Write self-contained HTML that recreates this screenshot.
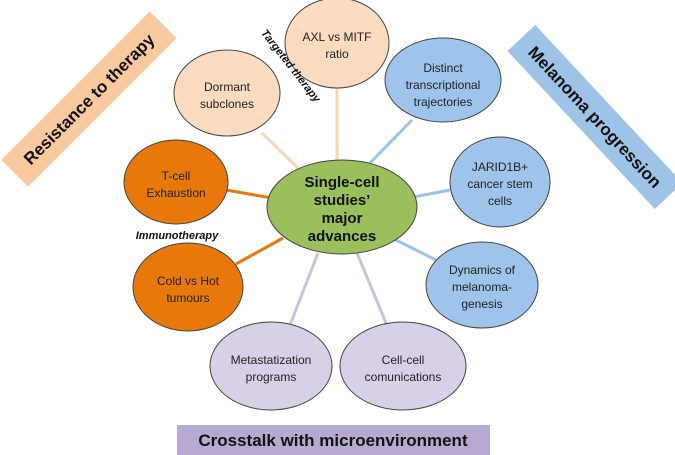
<!DOCTYPE html>
<html><head><style>html,body{margin:0;padding:0;background:#fff;}svg{display:block;font-family:"Liberation Sans",sans-serif;}</style></head>
<body>
<svg width="675" height="455" viewBox="0 0 675 455" xmlns="http://www.w3.org/2000/svg">
<g stroke-width="3">
<line x1="337" y1="87" x2="337" y2="165" stroke="#f8d6b6"/>
<line x1="262" y1="133" x2="302" y2="172" stroke="#f8d6b6"/>
<line x1="226" y1="190" x2="272" y2="198" stroke="#e8780a"/>
<line x1="236" y1="264" x2="283" y2="238" stroke="#e8780a"/>
<line x1="290" y1="325" x2="318" y2="253" stroke="#c9c3dd"/>
<line x1="386" y1="323" x2="357" y2="253" stroke="#c9c3dd"/>
<line x1="436" y1="260" x2="392" y2="238" stroke="#9dc3e6"/>
<line x1="450" y1="190" x2="408" y2="198" stroke="#9dc3e6"/>
<line x1="412" y1="120" x2="368" y2="165" stroke="#9dc3e6"/>
</g>
<g stroke="#444" stroke-width="1">
<ellipse cx="337" cy="43" rx="52" ry="45" fill="#fbdcc0"/>
<ellipse cx="227" cy="93" rx="53" ry="43" fill="#fbdcc0"/>
<ellipse cx="176" cy="182" rx="52" ry="42" fill="#e8780a"/>
<ellipse cx="188" cy="287" rx="55" ry="44" fill="#e8780a"/>
<ellipse cx="271" cy="366" rx="61" ry="44" fill="#d8d0e6"/>
<ellipse cx="403" cy="366" rx="63" ry="44" fill="#d8d0e6"/>
<ellipse cx="482" cy="285" rx="56" ry="43" fill="#9ec4ec"/>
<ellipse cx="500" cy="182" rx="50" ry="45" fill="#9ec4ec"/>
<ellipse cx="443" cy="80" rx="58" ry="42" fill="#9ec4ec"/>
<ellipse cx="342" cy="207" rx="75" ry="47" fill="#9bbf5c"/>
</g>
<g font-size="12" fill="#222" text-anchor="middle">
<text x="337" y="41">AXL vs MITF</text><text x="337" y="58">ratio</text>
<text x="227" y="91">Dormant</text><text x="227" y="108">subclones</text>
<text x="176" y="180">T-cell</text><text x="176" y="197">Exhaustion</text>
<text x="188" y="285">Cold vs Hot</text><text x="188" y="302">tumours</text>
<text x="271" y="364">Metastatization</text><text x="271" y="381">programs</text>
<text x="403" y="364">Cell-cell</text><text x="403" y="381">comunications</text>
<text x="482" y="274">Dynamics of</text><text x="482" y="291">melanoma-</text><text x="482" y="308">genesis</text>
<text x="500" y="171">JARID1B+</text><text x="500" y="188">cancer stem</text><text x="500" y="205">cells</text>
<text x="443" y="72">Distinct</text><text x="443" y="89">transcriptional</text><text x="443" y="106">trajectories</text>
</g>
<g font-size="15" font-weight="bold" fill="#111" text-anchor="middle">
<text x="342" y="187">Single-cell</text><text x="342" y="205">studies’</text><text x="342" y="223">major</text><text x="342" y="241">advances</text>
</g>
<text x="177" y="239" font-size="11" font-weight="bold" font-style="italic" text-anchor="middle" fill="#111">Immunotherapy</text>
<text transform="translate(288,68) rotate(52)" font-size="11" font-weight="bold" font-style="italic" text-anchor="middle" fill="#111">Targeted therapy</text>
<g transform="translate(89,99) rotate(-45)">
<rect x="-105" y="-19" width="210" height="38" fill="#f9c9a0"/>
<text x="0" y="6" font-size="17" font-weight="bold" text-anchor="middle" fill="#111">Resistance to therapy</text>
</g>
<g transform="translate(595,117) rotate(47)">
<rect x="-108" y="-19" width="216" height="38" fill="#9dc3e6"/>
<text x="0" y="6" font-size="17" font-weight="bold" text-anchor="middle" fill="#111">Melanoma progression</text>
</g>
<rect x="177" y="425" width="313" height="30" fill="#b8a9d2"/>
<text x="333" y="446" font-size="17" font-weight="bold" text-anchor="middle" fill="#111">Crosstalk with microenvironment</text>
</svg>
</body></html>
